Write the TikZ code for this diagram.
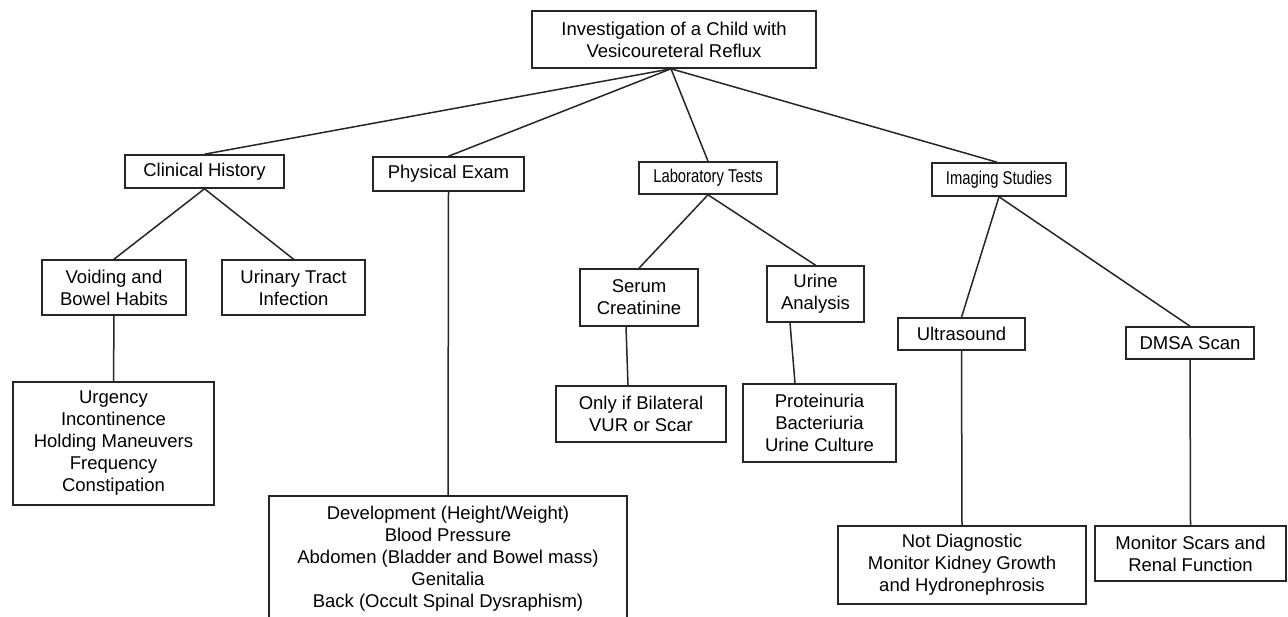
\documentclass[tikz,border=0pt]{standalone}
\usepackage{fontspec}
\setmainfont{Liberation Sans}
\newfontfamily\narrowsans[FakeStretch=0.8]{Liberation Sans}
\usetikzlibrary{calc}
\begin{document}
\begin{tikzpicture}[x=1pt,y=-1pt,
  box/.style={draw=black!85, line width=1.6pt, rectangle, inner sep=0pt, align=center,
    font=\fontsize{18.5}{22}\selectfont},
  link/.style={draw=black!85, line width=1.5pt}]
\path[use as bounding box, clip] (0,0) rectangle (1288,617);
\fill[white] (0,0) rectangle (1288,617);

\node[box, minimum width=284, minimum height=57] (root) at (674,39.5) {Investigation of a Child with\\Vesicoureteral Reflux};

\node[box, minimum width=159, minimum height=33] (clin) at (204.5,171.5) {Clinical History};
\node[box, minimum width=151, minimum height=34] (phys) at (448.5,174) {Physical Exam};
\node[box, minimum width=138, minimum height=32] (lab) at (708,178) {\narrowsans Laboratory Tests};
\node[box, minimum width=134, minimum height=33] (img) at (999,179.5) {\narrowsans Imaging Studies};

\node[box, minimum width=144, minimum height=55] (void) at (114,287.5) {Voiding and\\Bowel Habits};
\node[box, minimum width=143, minimum height=55] (uti) at (293.5,287.5) {Urinary Tract\\Infection};
\node[box, minimum width=201, minimum height=123] (urg) at (113.5,443.5) {Urgency\\Incontinence\\Holding Maneuvers\\Frequency\\Constipation};

\node[box, minimum width=358, minimum height=125] (dev) at (448,558.5) {Development (Height/Weight)\\Blood Pressure\\Abdomen (Bladder and Bowel mass)\\Genitalia\\Back (Occult Spinal Dysraphism)};

\node[box, minimum width=118, minimum height=57] (serum) at (639,297.5) {Serum\\Creatinine};
\node[box, minimum width=97, minimum height=56] (urine) at (815.5,294) {Urine\\Analysis};
\node[box, minimum width=170, minimum height=56] (only) at (641,414) {Only if Bilateral\\VUR or Scar};
\node[box, minimum width=153, minimum height=78] (prot) at (819.5,423) {Proteinuria\\Bacteriuria\\Urine Culture};

\node[box, minimum width=127, minimum height=32] (ultra) at (961.5,334) {Ultrasound};
\node[box, minimum width=128, minimum height=32] (dmsa) at (1190,343) {DMSA Scan};
\node[box, minimum width=248, minimum height=78] (notd) at (962,565) {Not Diagnostic\\Monitor Kidney Growth\\and Hydronephrosis};
\node[box, minimum width=191, minimum height=55] (mons) at (1190.5,553.5) {Monitor Scars and\\Renal Function};

\coordinate (rj) at ($(root.south)+(-3,0)$);
\draw[link] (rj) -- (clin.north);
\draw[link] (rj) -- (phys.north);
\draw[link] (rj) -- (lab.north);
\draw[link] (rj) -- ($(img.north)+(-2,0)$);

\draw[link] (clin.south) -- (void.north);
\draw[link] (clin.south) -- (uti.north);
\draw[link] (void.south) -- (urg.north);

\draw[link] (phys.south) -- (dev.north);

\draw[link] (lab.south) -- (serum.north);
\draw[link] (lab.south) -- (urine.north);
\draw[link] ($(serum.south)+(-13,0)$) -- ($(only.north)+(-13,0)$);
\draw[link] ($(urine.south)+(-25.5,0)$) -- ($(prot.north)+(-24.5,0)$);

\draw[link] (img.south) -- (ultra.north);
\draw[link] (img.south) -- (dmsa.north);
\draw[link] (ultra.south) -- (notd.north);
\draw[link] (dmsa.south) -- (mons.north);
\end{tikzpicture}
\end{document}
